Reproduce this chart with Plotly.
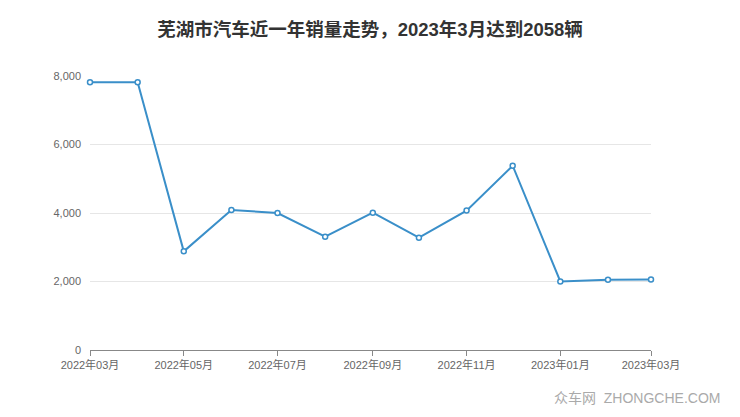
import plotly.graph_objects as go

months = ["2022-03-01", "2022-04-01", "2022-05-01", "2022-06-01", "2022-07-01", "2022-08-01",
          "2022-09-01", "2022-10-01", "2022-11-01", "2022-12-01", "2023-01-01", "2023-02-01",
          "2023-03-01"]
sales = [7820, 7820, 2880, 4090, 4000, 3310, 4010, 3280, 4070, 5380, 2000, 2050, 2058]
tick_vals = ["2022-03-01", "2022-05-01", "2022-07-01", "2022-09-01", "2022-11-01",
             "2023-01-01", "2023-03-01"]
tick_text = ["2022年03月", "2022年05月", "2022年07月", "2022年09月", "2022年11月",
             "2023年01月", "2023年03月"]
title = "芜湖市汽车近一年销量走势，2023年3月达到2058辆"

fig = go.Figure()
fig.add_trace(go.Scatter(
    x=months, y=sales, mode="lines+markers",
    line=dict(color="#3a8fc9", width=2),
    marker=dict(size=5, color="white", line=dict(color="#3a8fc9", width=1.5)),
    cliponaxis=False, showlegend=False,
))

fig.update_layout(
    width=740, height=417,
    margin=dict(l=90, r=89, t=76, b=67),
    paper_bgcolor="white", plot_bgcolor="white",
    font=dict(family="Liberation Sans, Noto Sans CJK SC, sans-serif", color="#666", size=11),
    title=dict(text="<b>" + title + "</b>", x=0.5, xanchor="center", y=1 - 30 / 417, yanchor="middle",
               font=dict(size=18.5, color="#333",
                         family="Liberation Sans, Noto Sans CJK SC, sans-serif")),
    xaxis=dict(type="date", range=["2022-03-01", "2023-03-01"],
               tickvals=tick_vals, ticktext=tick_text,
               showgrid=False, showline=True, linecolor="#888", linewidth=1,
               ticks="outside", tickcolor="#888", ticklen=5, zeroline=False,
               tickfont=dict(size=11, color="#666")),
    yaxis=dict(range=[0, 8000], tickvals=[0, 2000, 4000, 6000, 8000],
               tickformat=",d", showgrid=True, gridcolor="#e6e6e6", gridwidth=1,
               zeroline=False, showline=False, ticks="", ticklabelstandoff=8,
               tickfont=dict(size=11, color="#666")),
    annotations=[dict(text="众车网  ZHONGCHE.COM", xref="paper", yref="paper",
                      x=1.0, y=0.0, xanchor="right", yanchor="middle",
                      xshift=71, yshift=-48, showarrow=False,
                      font=dict(size=14, color="#aaa"))],
)

fig.write_html("out.html", config={"displayModeBar": False},
               post_script="document.body.style.margin='0';")
